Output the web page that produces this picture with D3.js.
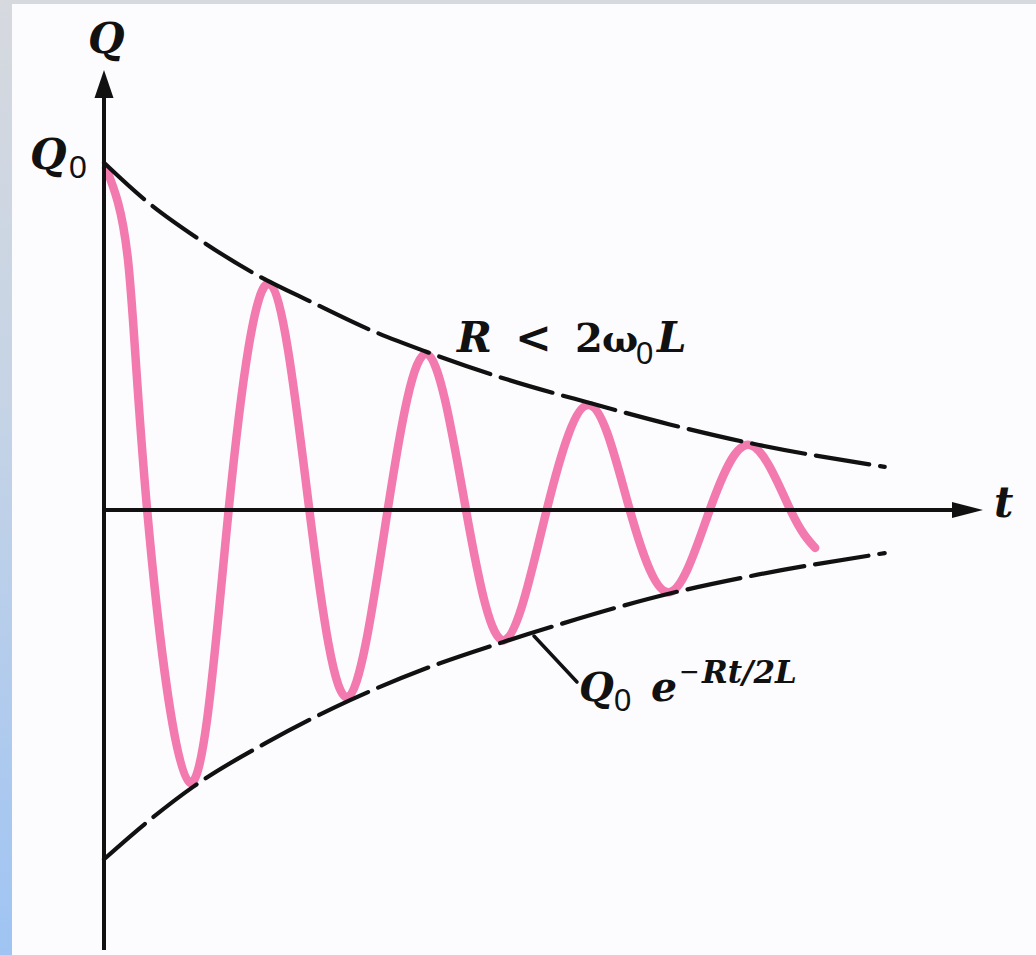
<!DOCTYPE html>
<html>
<head>
<meta charset="utf-8">
<script src="https://cdn.jsdelivr.net/npm/d3@7"></script>
<style>
  html, body { margin: 0; padding: 0; background: #fcfcff; }
  svg { display: block; }
  .serif { font-family: "DejaVu Serif", serif; font-weight: bold; font-style: italic; fill: #111; }
  .upright { font-family: "DejaVu Serif", serif; font-weight: bold; font-style: normal; fill: #111; }
  .sub { font-family: "Liberation Sans", Arial, sans-serif; font-weight: normal; font-style: normal; fill: #111; }
</style>
</head>
<body>
<script>
// Damped charge oscillation Q(t) in an RLC circuit, Q in units of Q0, t in half-periods
const waveT = [0.025, 0.30, 0.54, 1.08, 1.56, 2.07, 2.57, 3.05, 3.55, 4.04, 4.53, 5.01, 5.54, 6.08, 6.58, 7.08, 7.58, 8.09, 8.59, 8.90];
const waveQ = [0.991, 0.725, 0, -0.791, 0, 0.655, 0, -0.542, 0, 0.452, 0, -0.377, 0, 0.304, 0, -0.238, 0, 0.188, 0, -0.110];

// Upper and lower decay envelopes ±Q0 e^{-Rt/2L}
const upperT = [0, 0.51, 1.18, 1.89, 2.62, 3.33, 4.04, 5.05, 6.08, 7.08, 8.08, 9.77];
const upperQ = [1.006, 0.899, 0.786, 0.684, 0.600, 0.522, 0.458, 0.378, 0.310, 0.248, 0.194, 0.125];
const lowerT = [0, 0.51, 1.11, 2.05, 3.08, 4.04, 4.99, 5.68, 7.08, 8.08, 9.77];
const lowerQ = [-1.012, -0.910, -0.803, -0.672, -0.551, -0.458, -0.383, -0.333, -0.242, -0.192, -0.125];

// Axis extents
const tAxis = [0, 11];
const qAxis = [-1.275, 1.275];

const W = 1036, H = 955;
const svg = d3.select("body").append("svg").attr("width", W).attr("height", H);

// page frame: grey top band and a grey-to-blue left band
const defs = svg.append("defs");
const grad = defs.append("linearGradient").attr("id", "sideBand")
  .attr("x1", 0).attr("y1", 0).attr("x2", 0).attr("y2", 1);
grad.append("stop").attr("offset", "0%").attr("stop-color", "#d6d9de");
grad.append("stop").attr("offset", "45%").attr("stop-color", "#c4d3e6");
grad.append("stop").attr("offset", "100%").attr("stop-color", "#9fc4f3");
svg.append("rect").attr("x", 0).attr("y", 0).attr("width", W).attr("height", H).attr("fill", "#fcfcff");
svg.append("rect").attr("x", 0).attr("y", 0).attr("width", W).attr("height", 4).attr("fill", "#d6d9de");
svg.append("rect").attr("x", 0).attr("y", 0).attr("width", 12).attr("height", H).attr("fill", "url(#sideBand)");

const x = d3.scaleLinear().domain(tAxis).range([104, 983]);
const y = d3.scaleLinear().domain(qAxis).range([950, 70]);

const pts = (ts, qs) => ts.map((t, i) => [t, qs[i]]);

// oscillating charge
const waveLine = d3.line().x(d => x(d[0])).y(d => y(d[1])).curve(d3.curveNatural);
svg.append("path")
  .attr("d", waveLine(pts(waveT, waveQ)))
  .attr("fill", "none")
  .attr("stroke", "#f27aae")
  .attr("stroke-width", 8.5)
  .attr("stroke-linecap", "round");

// dashed envelopes
const envLine = d3.line().x(d => x(d[0])).y(d => y(d[1])).curve(d3.curveMonotoneX);
[pts(upperT, upperQ), pts(lowerT, lowerQ)].forEach(p => {
  svg.append("path")
    .attr("d", envLine(p))
    .attr("fill", "none")
    .attr("stroke", "#111")
    .attr("stroke-width", 4.2)
    .attr("stroke-dasharray", "54 11")
    .attr("stroke-linecap", "round");
});

// axes with arrowheads
const axisG = svg.append("g").attr("stroke", "#111").attr("fill", "#111");
axisG.append("line")
  .attr("x1", x(0)).attr("y1", y(qAxis[0]))
  .attr("x2", x(0)).attr("y2", y(qAxis[1]) + 20)
  .attr("stroke-width", 4);
axisG.append("line")
  .attr("x1", x(0)).attr("y1", y(0))
  .attr("x2", x(tAxis[1]) - 22).attr("y2", y(0))
  .attr("stroke-width", 4);
// arrowhead on Q axis
axisG.append("path")
  .attr("stroke", "none")
  .attr("d", `M${x(0)},${y(qAxis[1])} L${x(0) + 9.5},${y(qAxis[1]) + 28} L${x(0) - 9.5},${y(qAxis[1]) + 28} Z`);
// arrowhead on t axis
axisG.append("path")
  .attr("stroke", "none")
  .attr("d", `M${x(tAxis[1])},${y(0)} L${x(tAxis[1]) - 31},${y(0) - 8} L${x(tAxis[1]) - 31},${y(0) + 8} Z`);

// leader from lower envelope to its label
svg.append("line")
  .attr("x1", 534).attr("y1", 636).attr("x2", 577).attr("y2", 682)
  .attr("stroke", "#111").attr("stroke-width", 3.5).attr("stroke-linecap", "round");

// axis labels
svg.append("text").attr("class", "serif").attr("x", 88).attr("y", 53).attr("font-size", 42).text("Q");
svg.append("text").attr("class", "serif").attr("x", 994).attr("y", 517).attr("font-size", 42).text("t");

// Q0 marker on the vertical axis
svg.append("text").attr("class", "serif").attr("x", 30).attr("y", 169).attr("font-size", 42).text("Q");
svg.append("text").attr("class", "sub").attr("x", 69).attr("y", 178).attr("font-size", 32).text("0");

// condition label
svg.append("text").attr("class", "serif").attr("x", 457).attr("y", 352).attr("font-size", 42).text("R");
svg.append("text").attr("class", "upright").attr("x", 515).attr("y", 353).attr("font-size", 44).text("<");
svg.append("text").attr("class", "upright").attr("x", 575).attr("y", 352).attr("font-size", 40).text("2");
svg.append("text").attr("class", "upright").attr("x", 602).attr("y", 352).attr("font-size", 38).text("ω");
svg.append("text").attr("class", "sub").attr("x", 636).attr("y", 364).attr("font-size", 31).text("0");
svg.append("text").attr("class", "serif").attr("x", 657).attr("y", 352).attr("font-size", 42).text("L");

// envelope label Q0 e^{-Rt/2L}
svg.append("text").attr("class", "serif").attr("x", 579).attr("y", 701).attr("font-size", 40).text("Q");
svg.append("text").attr("class", "sub").attr("x", 614).attr("y", 711).attr("font-size", 31).text("0");
svg.append("text").attr("class", "serif").attr("x", 651).attr("y", 701).attr("font-size", 41).text("e");
svg.append("text").attr("class", "sub").attr("x", 680).attr("y", 683).attr("font-size", 32).attr("font-weight", "bold").text("−");
svg.append("text").attr("class", "serif").attr("x", 702).attr("y", 683).attr("font-size", 31).text("Rt/2L");
</script>
</body>
</html>
